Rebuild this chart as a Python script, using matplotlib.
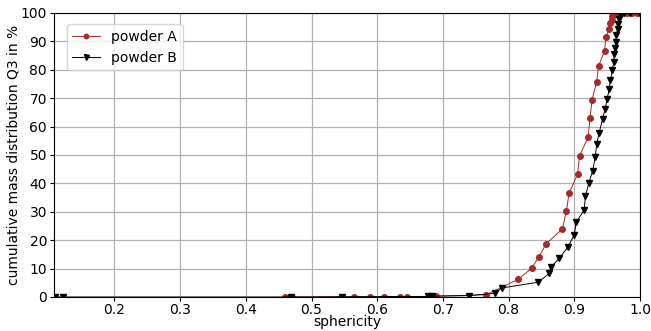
import matplotlib
matplotlib.use("Agg")
import matplotlib.pyplot as plt

# powder A: sphericity vs cumulative Q3 (%)
sph_a = [0.460, 0.470, 0.565, 0.589, 0.610, 0.634, 0.646, 0.680, 0.690, 0.766,
         0.815, 0.835, 0.846, 0.857, 0.882, 0.888, 0.892, 0.905, 0.908,
         0.921, 0.924, 0.927, 0.934, 0.937, 0.946, 0.948, 0.953, 0.955,
         0.957, 0.958, 0.962, 0.966, 0.972, 0.980, 0.988, 0.995, 1.000]
q3_a = [0.0, 0.0, 0.0, 0.0, 0.0, 0.1, 0.1, 0.2, 0.3, 0.8,
        6.3, 10.1, 14.1, 18.7, 24.0, 30.3, 36.5, 43.3, 49.8,
        56.2, 63.1, 69.4, 75.7, 81.4, 86.6, 91.4, 94.5, 96.6,
        97.6, 99.0, 99.5, 99.8, 99.9, 100.0, 100.0, 100.0, 100.0]

# powder B
sph_b = [0.110, 0.121, 0.468, 0.547, 0.678, 0.683, 0.740, 0.779, 0.790,
         0.845, 0.862, 0.864, 0.877, 0.890, 0.900, 0.903, 0.915, 0.917,
         0.922, 0.928, 0.932, 0.934, 0.938, 0.943, 0.947, 0.950, 0.953,
         0.955, 0.958, 0.960, 0.961, 0.962, 0.963, 0.964, 0.966, 0.967,
         0.968, 0.969, 0.975, 0.985, 1.000]
q3_b = [0.0, 0.0, 0.0, 0.1, 0.2, 0.3, 0.5, 1.3, 3.2,
        5.2, 8.3, 10.4, 13.6, 17.5, 21.9, 26.4, 30.6, 35.6,
        40.0, 44.5, 49.4, 53.9, 57.9, 62.7, 66.2, 69.7, 73.1,
        76.4, 79.8, 82.6, 85.5, 87.7, 89.7, 92.4, 94.5, 96.1,
        98.0, 99.5, 100.0, 100.0, 100.0]

fig = plt.figure(figsize=(6.51, 3.31), dpi=100)
ax = fig.add_axes([54 / 651, 1 - 297 / 331, 586 / 651, 284 / 331])

ax.plot(sph_a, q3_a, color="#a52a2a", marker="o", markersize=4,
        linewidth=0.7, label="powder A")
ax.plot(sph_b, q3_b, color="black", marker="v", markersize=4.5,
        linewidth=0.7, label="powder B")

ax.set_xlim(0.108, 1.0)
ax.set_ylim(0, 100)
ax.set_xticks([0.2, 0.3, 0.4, 0.5, 0.6, 0.7, 0.8, 0.9, 1.0])
ax.set_yticks(range(0, 101, 10))
ax.tick_params(labelsize=10, length=3, pad=2)
ax.tick_params(axis="x", pad=1.5)
ax.grid(True, color="#b0b0b0", linewidth=0.9)
ax.set_axisbelow(True)
ax.set_xlabel("sphericity", fontsize=10, labelpad=-1.5)
ax.set_ylabel("cumulative mass distribution Q3 in %", fontsize=10, labelpad=0)
ax.legend(loc="upper left", fontsize=10, markerscale=0.8,
          bbox_to_anchor=(0.01, 0.985))

fig.savefig("out.png", dpi=100)
